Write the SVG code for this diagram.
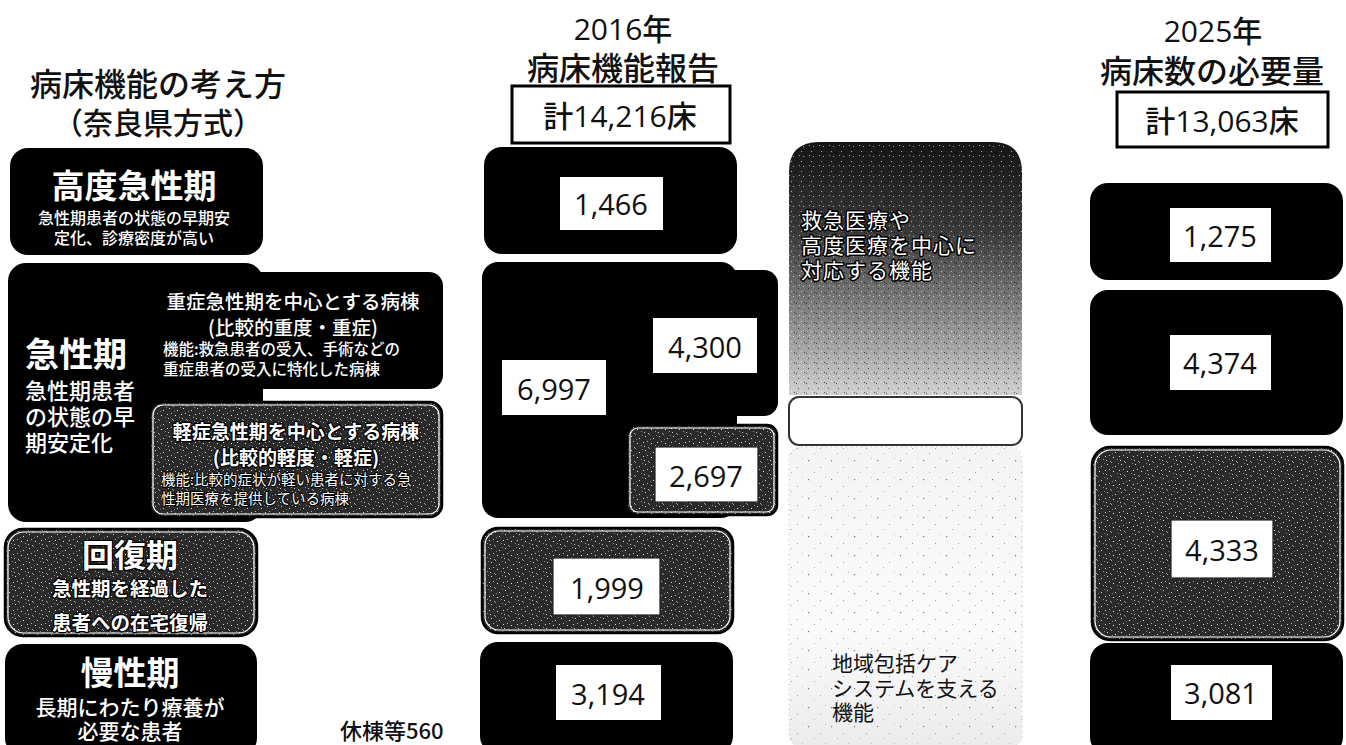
<svg xmlns="http://www.w3.org/2000/svg" width="1346" height="745" viewBox="0 0 1346 745">
<defs>
<pattern id="spk" width="14" height="14" patternUnits="userSpaceOnUse">
<rect width="14" height="14" fill="#2a2a2a"/>
<rect x="1" y="2" width="1" height="1" fill="#d8d8d8"/>
<rect x="5" y="0" width="1" height="1" fill="#9a9a9a"/>
<rect x="9" y="4" width="1" height="1" fill="#e0e0e0"/>
<rect x="12" y="1" width="1" height="1" fill="#888"/>
<rect x="3" y="7" width="1" height="1" fill="#bbb"/>
<rect x="7" y="9" width="1" height="1" fill="#eee"/>
<rect x="11" y="11" width="1" height="1" fill="#999"/>
<rect x="0" y="12" width="1" height="1" fill="#ccc"/>
<rect x="6" y="5" width="1" height="1" fill="#777"/>
<rect x="13" y="8" width="1" height="1" fill="#ddd"/>
<rect x="4" y="13" width="1" height="1" fill="#aaa"/>
</pattern>
<pattern id="noise" width="10" height="10" patternUnits="userSpaceOnUse">
<rect x="1" y="1" width="1" height="1" fill="#fff"/>
<rect x="6" y="3" width="1" height="1" fill="#000"/>
<rect x="3" y="6" width="1" height="1" fill="#fff"/>
<rect x="8" y="8" width="1" height="1" fill="#000"/>
<rect x="4" y="2" width="1" height="1" fill="#000"/>
<rect x="9" y="5" width="1" height="1" fill="#fff"/>
</pattern>
<pattern id="dots" width="23" height="19" patternUnits="userSpaceOnUse">
<rect x="3" y="4" width="1.2" height="1.2" fill="#777"/>
<rect x="15" y="11" width="1" height="1" fill="#999"/>
<rect x="9" y="16" width="1" height="1" fill="#aaa"/>
<rect x="20" y="2" width="1" height="1" fill="#bbb"/>
</pattern>
<linearGradient id="grad" x1="0" y1="0" x2="0" y2="1">
<stop offset="0" stop-color="#151515"/>
<stop offset="0.35" stop-color="#3a3a3a"/>
<stop offset="0.7" stop-color="#8a8a8a"/>
<stop offset="1" stop-color="#d0d0d0"/>
</linearGradient>
<linearGradient id="fade" x1="0" y1="0" x2="0" y2="1">
<stop offset="0" stop-color="#f4f4f4"/>
<stop offset="0.6" stop-color="#fbfbfb"/>
<stop offset="1" stop-color="#ececec"/>
</linearGradient>
</defs>
<style>
text{font-family:"Noto Sans CJK JP",sans-serif;dominant-baseline:central}
.blk{fill:#000}
.gry{fill:url(#spk);stroke:#000;stroke-width:2.5}
.inner{fill:none;stroke:#fff;stroke-width:1.2}
.lbl{fill:#fff}
.lblb{fill:#fff;stroke:#222;stroke-width:1.2}
.num{font-family:"Open Sans","Noto Sans CJK JP",sans-serif;font-size:29px;fill:#111;text-anchor:middle}
.hd{font-family:"Open Sans","Noto Sans CJK JP",sans-serif;fill:#111;text-anchor:middle;font-weight:500}
.tot{fill:#fff;stroke:#000;stroke-width:3}
.wt{fill:#fff;font-weight:700;text-anchor:middle}
.ws{fill:#fff;font-weight:500}
.ol{fill:#fff;stroke:#000;stroke-width:2.5;paint-order:stroke;stroke-linejoin:round}
.mid{text-anchor:middle}
</style>
<rect width="1346" height="745" fill="#fff"/>

<g id="title-left">
<text class="hd" x="158" y="83" style="font-size:32px">病床機能の考え方<tspan x="158" y="122" style="font-size:30px">（奈良県方式）</tspan></text>
</g>

<g id="node-koudo">
<rect class="blk" x="10" y="148" width="253" height="107" rx="18"/>
<text class="wt" x="134" y="184" style="font-size:33px">高度急性期</text>
<text class="ws mid" x="134" y="217" style="font-size:16px">急性期患者の状態の早期安<tspan x="134" y="237">定化、診療密度が高い</tspan></text>
</g>

<g id="node-kyusei">
<rect class="blk" x="8" y="263" width="255" height="259" rx="18"/>
<rect class="blk" x="150" y="272" width="293" height="117" rx="14"/>
<text class="wt" x="25" y="352" style="font-size:34px;text-anchor:start">急性期</text>
<text class="ws" x="25" y="389" style="font-size:22px">急性期患者<tspan x="25" y="415">の状態の早</tspan><tspan x="25" y="441">期安定化</tspan></text>
<text class="ws mid" x="293" y="300" style="font-size:19.5px">重症急性期を中心とする病棟<tspan x="293" y="326">(比較的重度・重症)</tspan></text>
<text class="ws" x="163" y="348" style="font-size:15.5px">機能:救急患者の受入、手術などの<tspan x="163" y="368">重症患者の受入に特化した病棟</tspan></text>
</g>

<g id="node-keisho">
<rect class="gry" x="150" y="402" width="292" height="115" rx="12"/>
<rect class="inner" x="153" y="405" width="286" height="109" rx="10"/>
<text class="ol mid" x="296" y="430" style="font-size:19px;font-weight:700">軽症急性期を中心とする病棟<tspan x="296" y="456">(比較的軽度・軽症)</tspan></text>
<text class="ol" x="161" y="478" style="font-size:14.5px;stroke-width:2">機能:比較的症状が軽い患者に対する急<tspan x="161" y="497">性期医療を提供している病棟</tspan></text>
</g>

<g id="node-kaifuku">
<rect class="gry" x="5" y="529" width="252" height="107" rx="18"/>
<rect class="inner" x="8" y="532" width="246" height="101" rx="16"/>
<text class="ol mid" x="130" y="553" style="font-size:32px;font-weight:700">回復期</text>
<text class="ol mid" x="130" y="587" style="font-size:19.5px;font-weight:700">急性期を経過した<tspan x="130" y="621">患者への在宅復帰</tspan></text>
</g>

<g id="node-mansei">
<rect class="blk" x="5" y="644" width="252" height="112" rx="18"/>
<text class="wt" x="130" y="671" style="font-size:33px">慢性期</text>
<text class="ws mid" x="130" y="706" style="font-size:21px">長期にわたり療養が<tspan x="130" y="730">必要な患者</tspan></text>
</g>

<g id="note-kyuto">
<text x="340" y="729" style="font-size:22px;fill:#111;font-weight:500">休棟等560</text>
</g>

<g id="head-2016">
<text class="hd" x="623" y="28" style="font-size:30px">2016年<tspan x="623" y="67" style="font-size:32px">病床機能報告</tspan></text>
<rect class="tot" x="512" y="86" width="218" height="57"/>
<text class="hd" x="620" y="115" style="font-size:30px">計14,216床</text>
</g>

<g id="bar2016-koudo">
<rect class="blk" x="484" y="147" width="253" height="107" rx="18"/>
<rect class="lbl" x="560" y="177" width="103" height="53"/>
<text class="num" x="611" y="203">1,466</text>
</g>

<g id="bar2016-kyusei">
<rect class="blk" x="482" y="262" width="255" height="256" rx="16"/>
<rect class="blk" x="600" y="270" width="178" height="146" rx="14"/>
<rect class="lbl" x="653" y="318" width="104" height="55"/>
<text class="num" x="705" y="346">4,300</text>
<rect class="lbl" x="502" y="360" width="104" height="55"/>
<text class="num" x="554" y="388">6,997</text>
</g>

<g id="bar2016-keisho">
<rect class="gry" x="627" y="425" width="150" height="90" rx="10"/>
<rect class="inner" x="630" y="428" width="144" height="84" rx="8"/>
<rect class="lblb" x="655" y="447" width="103" height="55"/>
<text class="num" x="706" y="475">2,697</text>
</g>

<g id="bar2016-kaifuku">
<rect class="gry" x="482" y="528" width="251" height="105" rx="16"/>
<rect class="inner" x="485" y="531" width="245" height="99" rx="14"/>
<rect class="lblb" x="553" y="558" width="107" height="57"/>
<text class="num" x="607" y="587">1,999</text>
</g>

<g id="bar2016-mansei">
<rect class="blk" x="480" y="642" width="253" height="112" rx="18"/>
<rect class="lbl" x="556" y="665" width="105" height="55"/>
<text class="num" x="608" y="693">3,194</text>
</g>

<g id="band-kyukyu">
<path d="M789,395 V172 Q789,142 819,142 H992 Q1022,142 1022,172 V395 Z" fill="url(#grad)"/>
<path d="M789,395 V172 Q789,142 819,142 H992 Q1022,142 1022,172 V395 Z" fill="url(#noise)" opacity="0.6"/>
<text class="ol" x="801" y="219" style="font-size:21px;stroke-width:3;letter-spacing:1px">救急医療や<tspan x="801" y="244">高度医療を中心に</tspan><tspan x="801" y="269">対応する機能</tspan></text>
</g>

<g id="band-blank">
<rect x="789" y="397" width="233" height="48" rx="10" fill="#fff" stroke="#333" stroke-width="2"/>
</g>

<g id="band-chiiki">
<rect x="789" y="447" width="233" height="300" rx="12" fill="url(#fade)"/>
<rect x="789" y="447" width="233" height="300" rx="12" fill="url(#dots)" stroke="#bbb" stroke-width="1" stroke-dasharray="1 4"/>
<text x="832" y="662" style="font-size:21px;fill:#111">地域包括ケア<tspan x="832" y="687">システムを支える</tspan><tspan x="832" y="711">機能</tspan></text>
</g>

<g id="head-2025">
<text class="hd" x="1213" y="30" style="font-size:30px">2025年<tspan x="1212" y="70" style="font-size:32px">病床数の必要量</tspan></text>
<rect class="tot" x="1117" y="92" width="211" height="55"/>
<text class="hd" x="1222" y="120" style="font-size:30px">計13,063床</text>
</g>

<g id="bar2025-koudo">
<rect class="blk" x="1090" y="183" width="253" height="97" rx="18"/>
<rect class="lbl" x="1170" y="208" width="101" height="54"/>
<text class="num" x="1220" y="235">1,275</text>
</g>

<g id="bar2025-kyusei">
<rect class="blk" x="1090" y="290" width="253" height="145" rx="18"/>
<rect class="lbl" x="1170" y="335" width="101" height="55"/>
<text class="num" x="1220" y="362">4,374</text>
</g>

<g id="bar2025-kaifuku">
<rect class="gry" x="1092" y="447" width="251" height="193" rx="18"/>
<rect class="inner" x="1095" y="450" width="245" height="187" rx="16"/>
<rect class="lblb" x="1171" y="520" width="102" height="58"/>
<text class="num" x="1222" y="549">4,333</text>
</g>

<g id="bar2025-mansei">
<rect class="blk" x="1090" y="643" width="253" height="112" rx="18"/>
<rect class="lbl" x="1171" y="665" width="101" height="55"/>
<text class="num" x="1221" y="692">3,081</text>
</g>
</svg>
